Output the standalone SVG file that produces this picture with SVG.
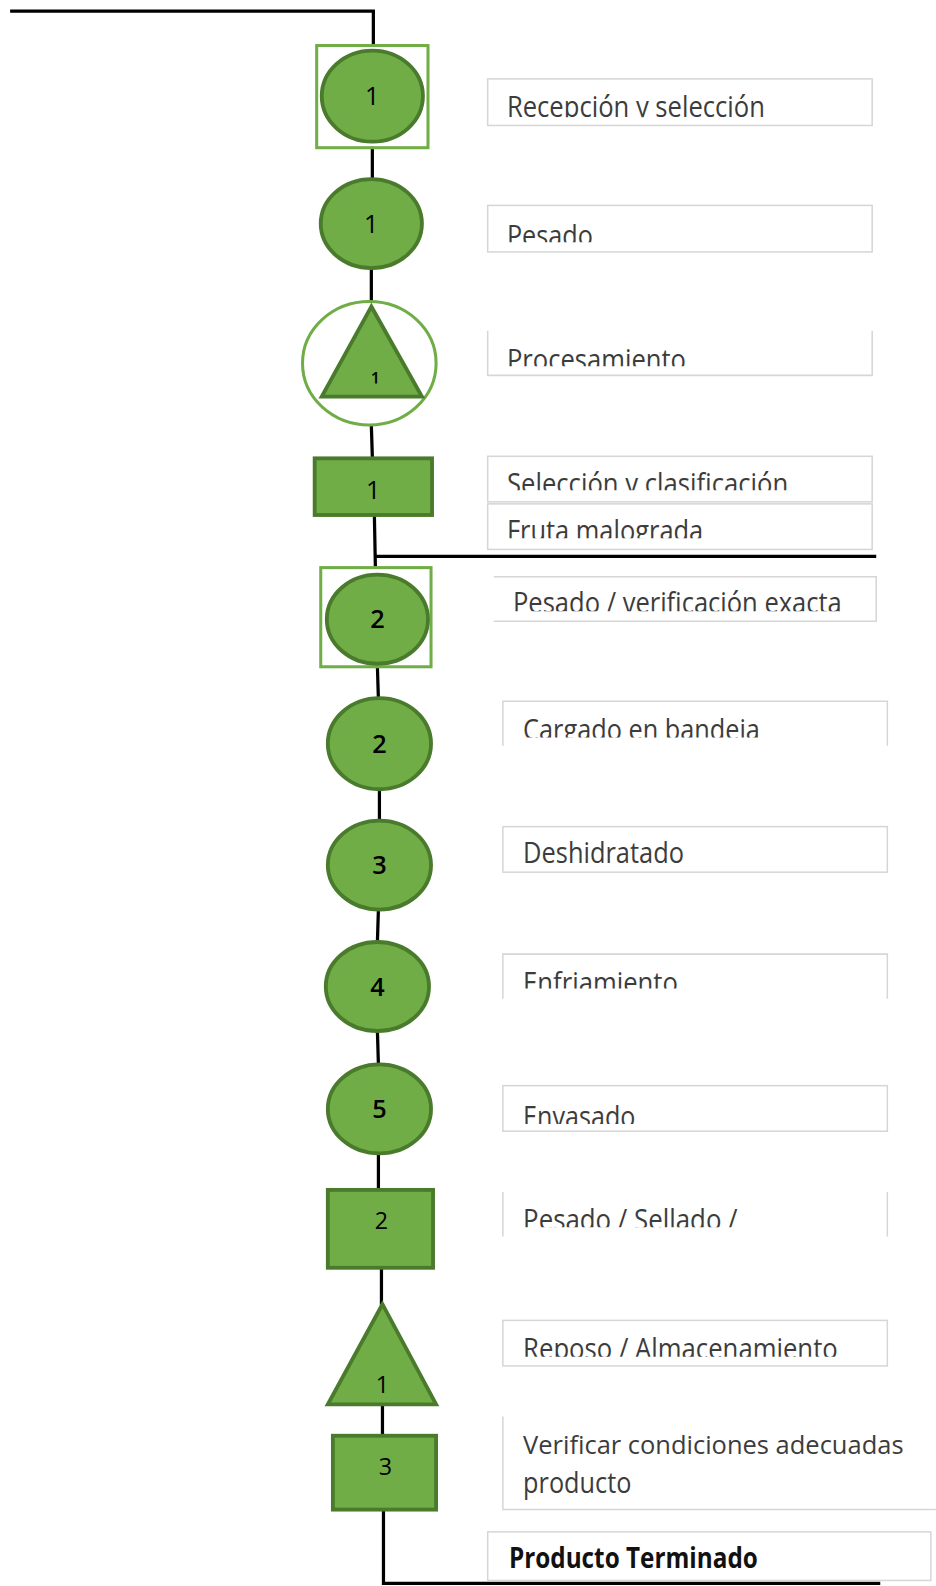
<svg xmlns="http://www.w3.org/2000/svg" width="936" height="1586" viewBox="0 0 936 1586">
  <style>
    .wire { fill: none; stroke: #000; stroke-width: 3.2; }
    .shape { fill: #70AD47; stroke: #4A7A2C; stroke-width: 3.8; }
    .ring { fill: none; stroke: #70AD47; stroke-width: 3; }
    .num { font-family: "Open Sans", "Liberation Sans", sans-serif; font-size: 25px; fill: #000; text-anchor: middle; }
    .bold { font-weight: 600; }
    .box { fill: #fff; stroke: #d6d6d6; stroke-width: 1.5; }
    .edge { fill: none; stroke: #d6d6d6; stroke-width: 1.5; }
    .lbl { font-family: "Open Sans", "Liberation Sans", sans-serif; font-size: 29px; fill: #3c3c3c; }
  </style>
  <defs>
    <clipPath id="c1"><rect x="480" y="70" width="400" height="45.8"/></clipPath>
    <clipPath id="c2"><rect x="480" y="200" width="400" height="39.5"/></clipPath>
    <clipPath id="c3"><rect x="480" y="320" width="400" height="42"/></clipPath>
    <clipPath id="c4"><rect x="480" y="450" width="400" height="34.5"/></clipPath>
    <clipPath id="c5"><rect x="480" y="497" width="400" height="35"/></clipPath>
    <clipPath id="c6"><rect x="480" y="570" width="400" height="34"/></clipPath>
    <clipPath id="c7"><rect x="495" y="690" width="400" height="39"/></clipPath>
    <clipPath id="c9"><rect x="495" y="940" width="400" height="37"/></clipPath>
    <clipPath id="c10"><rect x="495" y="1070" width="400" height="41"/></clipPath>
    <clipPath id="c11"><rect x="495" y="1175" width="400" height="38"/></clipPath>
    <clipPath id="c12"><rect x="495" y="1300" width="400" height="41"/></clipPath>
    <clipPath id="ct"><rect x="340" y="300" width="60" height="79"/></clipPath>
  </defs>
  <g transform="scale(1.0118)">
    <!-- flow line -->
    <g id="connectors">
      <polyline class="wire" points="10,11 369,11 369,45"/>
      <line class="wire" x1="368" y1="145" x2="368" y2="178"/>
      <line class="wire" x1="367" y1="265" x2="367" y2="298"/>
      <line class="wire" x1="367" y1="420" x2="368" y2="452"/>
      <line class="wire" x1="370" y1="509" x2="371" y2="560"/>
      <line class="wire" x1="370" y1="550" x2="866" y2="550"/>
      <line class="wire" x1="373" y1="659" x2="374" y2="691"/>
      <line class="wire" x1="375" y1="780" x2="375" y2="811"/>
      <line class="wire" x1="374" y1="899" x2="373" y2="931"/>
      <line class="wire" x1="373" y1="1019" x2="374" y2="1052"/>
      <line class="wire" x1="374" y1="1140" x2="374" y2="1175"/>
      <line class="wire" x1="377" y1="1253" x2="377" y2="1290"/>
      <line class="wire" x1="378" y1="1388" x2="378" y2="1418"/>
      <polyline class="wire" points="379,1492 379,1565 870,1565"/>
    </g>

    <!-- process symbols -->
    <g id="n-recepcion">
      <rect class="ring" x="313" y="45" width="110" height="101"/>
      <ellipse class="shape" cx="368" cy="95" rx="50" ry="45"/>
      <text class="num" x="368" y="104">1</text>
    </g>
    <g id="n-pesado">
      <ellipse class="shape" cx="367" cy="221" rx="50" ry="44"/>
      <text class="num" x="367" y="230">1</text>
    </g>
    <g id="n-procesamiento">
      <ellipse class="ring" cx="365" cy="359" rx="66" ry="61"/>
      <polygon class="shape" points="367,303 318,392 417,392"/>
      <text class="num bold" x="371" y="380" style="font-size:16px" clip-path="url(#ct)">1</text>
    </g>
    <g id="n-seleccion">
      <rect class="shape" x="311" y="453" width="116" height="56"/>
      <text class="num" x="369" y="493">1</text>
    </g>
    <g id="n-verificacion">
      <rect class="ring" x="317" y="561" width="109" height="98"/>
      <ellipse class="shape" cx="373" cy="612" rx="50" ry="44"/>
      <text class="num bold" x="373" y="621">2</text>
    </g>
    <g id="n-cargado">
      <ellipse class="shape" cx="375" cy="735" rx="51" ry="45"/>
      <text class="num bold" x="375" y="744">2</text>
    </g>
    <g id="n-deshidratado">
      <ellipse class="shape" cx="375" cy="855" rx="51" ry="44"/>
      <text class="num bold" x="375" y="864">3</text>
    </g>
    <g id="n-enfriamiento">
      <ellipse class="shape" cx="373" cy="975" rx="51" ry="44"/>
      <text class="num bold" x="373" y="984">4</text>
    </g>
    <g id="n-envasado">
      <ellipse class="shape" cx="375" cy="1096" rx="51" ry="44"/>
      <text class="num bold" x="375" y="1105">5</text>
    </g>
    <g id="n-sellado">
      <rect class="shape" x="324" y="1176" width="104" height="77"/>
      <text class="num" x="377" y="1215" style="font-size:23px">2</text>
    </g>
    <g id="n-almacenamiento">
      <polygon class="shape" points="378,1289 324,1388 431,1388"/>
      <text class="num" x="378" y="1377" style="font-size:23px">1</text>
    </g>
    <g id="n-control">
      <rect class="shape" x="329" y="1419" width="102" height="73"/>
      <text class="num" x="381" y="1458" style="font-size:23px">3</text>
    </g>

    <!-- description boxes -->
    <g id="t-recepcion">
      <rect class="box" x="482" y="78" width="380" height="46"/>
      <text class="lbl" x="501" y="116" textLength="255" lengthAdjust="spacingAndGlyphs" clip-path="url(#c1)">Recepción y selección</text>
    </g>
    <g id="t-pesado">
      <rect class="box" x="482" y="203" width="380" height="46"/>
      <text class="lbl" x="501" y="243.5" textLength="85" lengthAdjust="spacingAndGlyphs" clip-path="url(#c2)">Pesado</text>
    </g>
    <g id="t-procesamiento">
      <path class="edge" d="M482,327 V371 H862 V327"/>
      <text class="lbl" x="501" y="366" textLength="177" lengthAdjust="spacingAndGlyphs" clip-path="url(#c3)">Procesamiento</text>
    </g>
    <g id="t-seleccion">
      <rect class="box" x="482" y="451" width="380" height="45"/>
      <text class="lbl" x="501" y="488.5" textLength="278" lengthAdjust="spacingAndGlyphs" clip-path="url(#c4)">Selección y clasificación</text>
    </g>
    <g id="t-fruta">
      <rect class="box" x="482" y="498" width="380" height="45"/>
      <text class="lbl" x="501" y="535" textLength="194" lengthAdjust="spacingAndGlyphs" clip-path="url(#c5)">Fruta malograda</text>
    </g>
    <g id="t-verificacion">
      <path class="edge" d="M488,570 H866 V614 H488"/>
      <text class="lbl" x="507" y="606" textLength="325" lengthAdjust="spacingAndGlyphs" clip-path="url(#c6)">Pesado / verificación exacta</text>
    </g>
    <g id="t-cargado">
      <path class="edge" d="M497,737 V693 H877 V737"/>
      <text class="lbl" x="517" y="731" textLength="234" lengthAdjust="spacingAndGlyphs" clip-path="url(#c7)">Cargado en bandeja</text>
    </g>
    <g id="t-deshidratado">
      <rect class="box" x="497" y="817" width="380" height="45"/>
      <text class="lbl" x="517" y="853" textLength="159" lengthAdjust="spacingAndGlyphs">Deshidratado</text>
    </g>
    <g id="t-enfriamiento">
      <path class="edge" d="M497,987 V943 H877 V987"/>
      <text class="lbl" x="517" y="981" textLength="153" lengthAdjust="spacingAndGlyphs" clip-path="url(#c9)">Enfriamiento</text>
    </g>
    <g id="t-envasado">
      <rect class="box" x="497" y="1073" width="380" height="45"/>
      <text class="lbl" x="517" y="1114" textLength="111" lengthAdjust="spacingAndGlyphs" clip-path="url(#c10)">Envasado</text>
    </g>
    <g id="t-sellado">
      <path class="edge" d="M497,1178 V1222 M877,1178 V1222"/>
      <text class="lbl" x="517" y="1216" textLength="212" lengthAdjust="spacingAndGlyphs" clip-path="url(#c11)">Pesado / Sellado /</text>
    </g>
    <g id="t-almacenamiento">
      <rect class="box" x="497" y="1305" width="380" height="45"/>
      <text class="lbl" x="517" y="1343" textLength="311" lengthAdjust="spacingAndGlyphs" clip-path="url(#c12)">Reposo / Almacenamiento</text>
    </g>
    <g id="t-control">
      <path class="edge" d="M497,1400 V1492 H925"/>
      <text class="lbl" x="517" y="1437" style="font-size:26px" textLength="376" lengthAdjust="spacingAndGlyphs">Verificar condiciones adecuadas</text>
      <text class="lbl" x="517" y="1476" textLength="107" lengthAdjust="spacingAndGlyphs">producto</text>
    </g>
    <g id="t-final">
      <rect class="box" x="482" y="1514" width="438" height="48"/>
      <text class="lbl" x="503" y="1550" textLength="246" lengthAdjust="spacingAndGlyphs" style="font-weight:700;fill:#111">Producto Terminado</text>
    </g>
  </g>
</svg>
